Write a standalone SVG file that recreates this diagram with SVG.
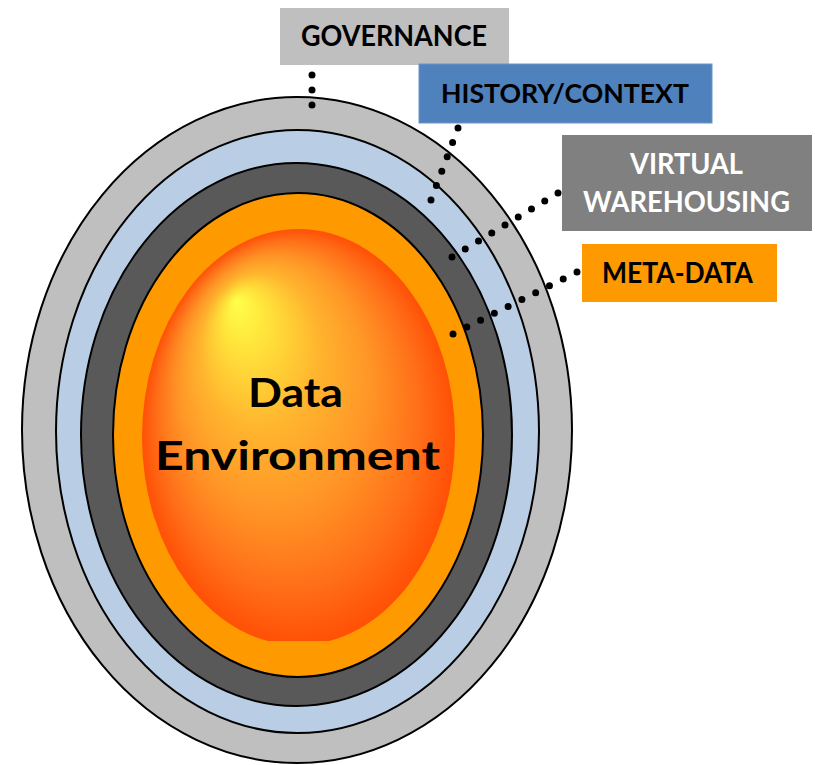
<svg xmlns="http://www.w3.org/2000/svg" width="815" height="765" viewBox="0 0 815 765">
<defs>
<radialGradient id="fire" cx="0.5" cy="0.5" r="0.5" fx="0.3" fy="0.17">
<stop offset="0" stop-color="#FFFF4A"/>
<stop offset="0.12" stop-color="#FFE83C"/>
<stop offset="0.38" stop-color="#FFB42E"/>
<stop offset="0.62" stop-color="#FF9426"/>
<stop offset="0.84" stop-color="#FF6E18"/>
<stop offset="1" stop-color="#FF5006"/>
</radialGradient>
<clipPath id="coreClip"><rect x="0" y="0" width="815" height="641"/></clipPath>
<style>
.ring{stroke:#000;stroke-width:2}
.lbl{font-family:Lato,"Open Sans","Liberation Sans",sans-serif;font-weight:bold;text-anchor:middle}
.dots{stroke:#000;stroke-width:7;stroke-linecap:round;fill:none}
</style>
</defs>
<g id="governance-ring"><ellipse class="ring" cx="297" cy="430" rx="275" ry="333" fill="#BFBFBF"/></g>
<g id="history-ring"><ellipse class="ring" cx="297.5" cy="431.5" rx="241.5" ry="301.5" fill="#B9CDE5"/></g>
<g id="warehousing-ring"><ellipse class="ring" cx="296.5" cy="434.5" rx="215.5" ry="271.5" fill="#595959"/></g>
<g id="metadata-ring"><ellipse class="ring" cx="298" cy="435" rx="185" ry="242" fill="#FF9900"/></g>
<g id="data-environment">
<ellipse cx="298.5" cy="437" rx="156.5" ry="208" fill="url(#fire)" clip-path="url(#coreClip)"/>
<text class="lbl" x="295.5" y="407" font-size="40" fill="#000" textLength="95" lengthAdjust="spacingAndGlyphs">Data</text>
<text class="lbl" x="297.5" y="470" font-size="40" fill="#000" textLength="285" lengthAdjust="spacingAndGlyphs">Environment</text>
</g>
<g id="connectors">
<line class="dots" x1="312" y1="75" x2="312" y2="105.5" stroke-dasharray="0 15"/>
<line class="dots" x1="458" y1="128" x2="430.8" y2="200.5" stroke-dasharray="0 15.38"/>
<line class="dots" x1="558" y1="193" x2="451.6" y2="257.3" stroke-dasharray="0 15.48"/>
<line class="dots" x1="577" y1="272" x2="452.6" y2="334.2" stroke-dasharray="0 15.4"/>
</g>
<g id="governance-label">
<rect x="280" y="8" width="229" height="57" fill="#BFBFBF"/>
<text class="lbl" x="394" y="46" font-size="28" fill="#000" textLength="186" lengthAdjust="spacingAndGlyphs">GOVERNANCE</text>
</g>
<g id="history-label">
<rect x="419" y="64" width="293" height="59" fill="#4F81BD" stroke="#6B93C6" stroke-width="1"/>
<text class="lbl" x="565" y="103" font-size="27" fill="#000" textLength="248" lengthAdjust="spacingAndGlyphs">HISTORY/CONTEXT</text>
</g>
<g id="warehousing-label">
<rect x="562" y="135" width="250" height="96" fill="#808080"/>
<text class="lbl" x="686.5" y="174" font-size="29" fill="#FFF" textLength="113" lengthAdjust="spacingAndGlyphs">VIRTUAL</text>
<text class="lbl" x="686.5" y="212" font-size="29" fill="#FFF" textLength="207" lengthAdjust="spacingAndGlyphs">WAREHOUSING</text>
</g>
<g id="metadata-label">
<rect x="582" y="244" width="195" height="58" fill="#FF9900"/>
<text class="lbl" x="677.5" y="283" font-size="28" fill="#000" textLength="151" lengthAdjust="spacingAndGlyphs">META-DATA</text>
</g>
</svg>
